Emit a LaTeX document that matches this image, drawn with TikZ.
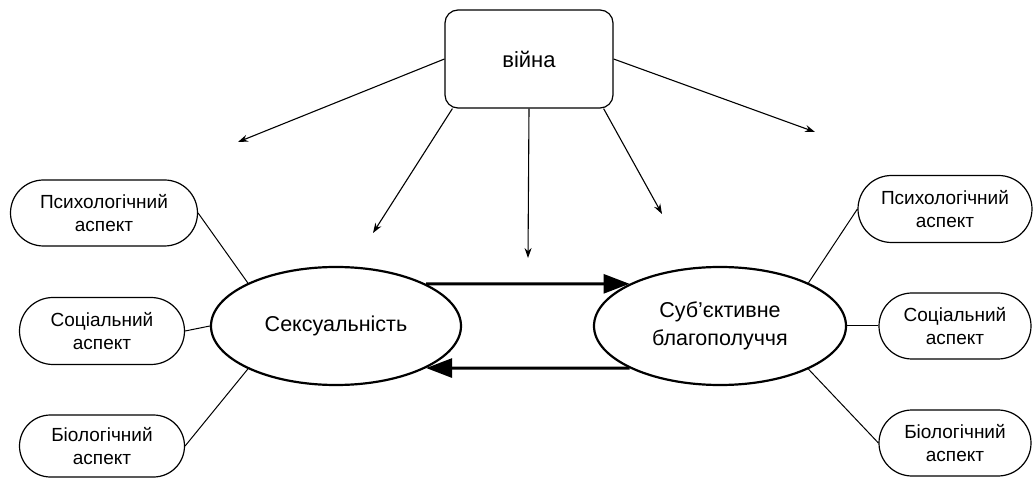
\documentclass[tikz,border=0pt]{standalone}
\usepackage{fontspec}
\setmainfont{Liberation Sans}
\usetikzlibrary{shapes.geometric,shapes.misc,arrows.meta}
\begin{document}
\begin{tikzpicture}[x=1pt,y=-1pt,
  aspectbox/.style={draw, line width=1.2pt, rounded rectangle, align=center, inner sep=0pt,
    font=\fontsize{19}{23}\selectfont},
  bigell/.style={draw, ellipse, line width=2.2pt, inner sep=0pt, align=center,
    minimum height=118pt, font=\fontsize{21.5}{28}\selectfont},
  thin/.style={line width=1.1pt, -{Stealth[length=10pt,width=7pt]}},
  thick/.style={line width=3pt, -{Triangle[length=26pt,width=19pt]}},
  link/.style={line width=1pt}]
\useasboundingbox (0,0) rectangle (1034,478);
\fill[white] (0,0) rectangle (1034,478);

\node[draw, line width=1.2pt, rounded corners=13pt, minimum width=168pt, minimum height=98pt,
  inner sep=0pt, font=\fontsize{22}{26}\selectfont] (war) at (529,59) {війна};

\node[bigell, minimum width=250pt] (sex) at (336,326) {Сексуальність};
\node[bigell, minimum width=252pt] (sub) at (720,326) {Суб’єктивне\\благополуччя};

\node[aspectbox, minimum width=187pt, minimum height=66pt] (lpsy) at (104,213) {Психологічний\\аспект};
\node[aspectbox, minimum width=165pt, minimum height=67pt] (lsoc) at (102,331) {Соціальний\\аспект};
\node[aspectbox, minimum width=165pt, minimum height=62pt] (lbio) at (102,446) {Біологічний\\аспект};

\node[aspectbox, minimum width=174pt, minimum height=67pt] (rpsy) at (945,209) {Психологічний\\аспект};
\node[aspectbox, minimum width=152pt, minimum height=66pt] (rsoc) at (955,326) {Соціальний\\аспект};
\node[aspectbox, minimum width=152pt, minimum height=66pt] (rbio) at (955,443) {Біологічний\\аспект};

\coordinate (t1) at (238,142);
\coordinate (t2) at (373,233);
\coordinate (t3) at (528,258);
\coordinate (t4) at (662,214);
\coordinate (t5) at (815,132);

\draw[thin] (war.west) -- (t1);
\draw[thin] ([xshift=8pt]war.south west) -- (t2);
\draw[thin] (war.south) -- (t3);
\draw[thin] ([xshift=-10pt]war.south east) -- (t4);
\draw[thin] (war.east) -- (t5);

\draw[thick] (sex.25) -- (sub.155);
\draw[thick] (sub.205) -- (sex.-25);

\draw[link] (lpsy.east) -- (sex.154);
\draw[link] (lsoc.east) -- (sex.west);
\draw[link] (lbio.east) -- (sex.206);
\draw[link] (rpsy.west) -- (sub.26);
\draw[link] (rsoc.west) -- (sub.east);
\draw[link] (rbio.west) -- (sub.-26);
\end{tikzpicture}
\end{document}
